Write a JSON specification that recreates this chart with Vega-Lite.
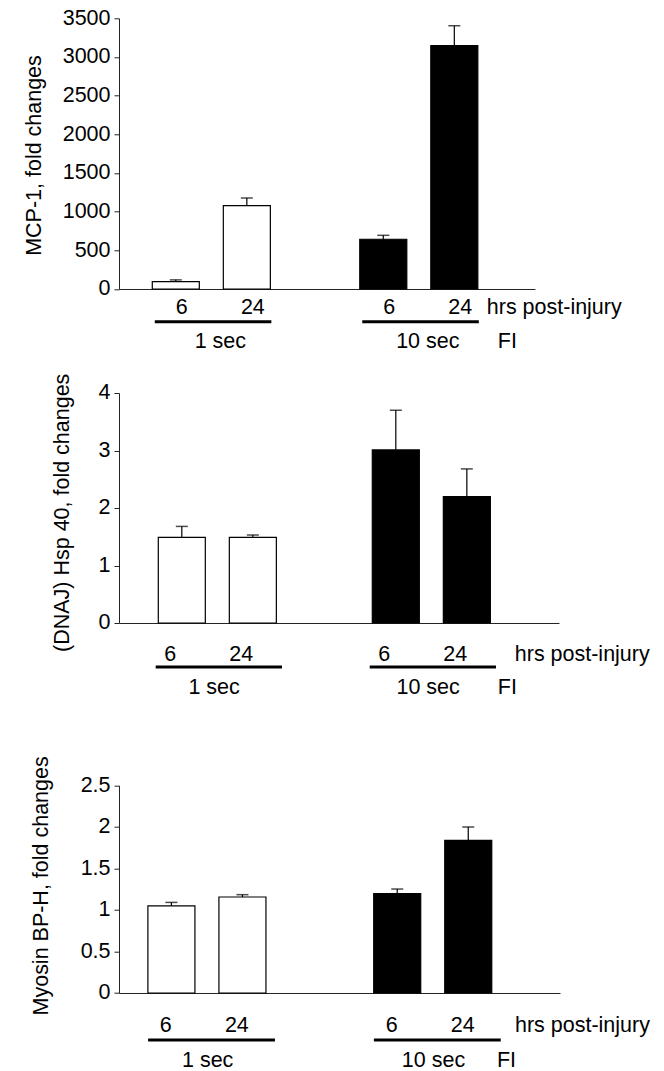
{
  "$schema": "https://vega.github.io/schema/vega-lite/v6.json",
  "autosize": "none",
  "padding": {"left": 119, "top": 18.3, "right": 545, "bottom": 1053},
  "config": {
    "view": {"stroke": null},
    "font": "Liberation Sans",
    "axis": {"grid": false, "tickSize": 5, "tickColor": "#222", "domainColor": "#222", "labelFontSize": 21.5, "labelColor": "black", "labelPadding": 4, "labelOverlap": false, "titleFontSize": 21.5, "titleFontWeight": "normal", "titleColor": "black", "titleBaseline": "middle"},
    "text": {"fontSize": 21.5, "color": "black", "baseline": "middle"}
  },
  "datasets": {
    "p1": [
      {"group": "1 sec", "hrs": "6", "mean": 95, "upper": 118},
      {"group": "1 sec", "hrs": "24", "mean": 1077, "upper": 1177},
      {"group": "10 sec", "hrs": "6", "mean": 643, "upper": 694},
      {"group": "10 sec", "hrs": "24", "mean": 3146, "upper": 3404}
    ],
    "p2": [
      {"group": "1 sec", "hrs": "6", "mean": 1.49, "upper": 1.68},
      {"group": "1 sec", "hrs": "24", "mean": 1.49, "upper": 1.53},
      {"group": "10 sec", "hrs": "6", "mean": 3.01, "upper": 3.70},
      {"group": "10 sec", "hrs": "24", "mean": 2.20, "upper": 2.68}
    ],
    "p3": [
      {"group": "1 sec", "hrs": "6", "mean": 1.048, "upper": 1.091},
      {"group": "1 sec", "hrs": "24", "mean": 1.156, "upper": 1.184},
      {"group": "10 sec", "hrs": "6", "mean": 1.196, "upper": 1.252},
      {"group": "10 sec", "hrs": "24", "mean": 1.838, "upper": 1.999}
    ],
    "groups": [{"group": "1 sec"}, {"group": "10 sec"}]
  },
  "vconcat": [
    {
      "width": 416,
      "height": 270.7,
      "data": {"name": "p1"},
      "encoding": {
        "x": {"field": "group", "type": "nominal", "title": null,
              "scale": {"domain": ["1 sec", "10 sec"], "paddingInner": 0.431, "paddingOuter": 0.218, "align": 0.368},
              "axis": {"labels": false, "ticks": false, "title": null}}
      },
      "layer": [
        {"mark": {"type": "bar", "stroke": "black", "strokeWidth": 1.2},
         "encoding": {
           "xOffset": {"field": "hrs", "type": "nominal", "scale": {"domain": ["6", "24"], "paddingInner": 0.338, "paddingOuter": 0}},
           "y": {"field": "mean", "type": "quantitative", "scale": {"domain": [0, 3500], "nice": false},
                 "axis": {"values": [0, 500, 1000, 1500, 2000, 2500, 3000, 3500], "format": "d", "title": "MCP-1, fold changes", "titleX": -85, "titleY": 136.7}},
           "color": {"field": "group", "type": "nominal", "scale": {"domain": ["1 sec", "10 sec"], "range": ["white", "black"]}, "legend": null}
         }},
        {"mark": {"type": "rule", "color": "black", "strokeWidth": 1.2},
         "encoding": {"xOffset": {"field": "hrs", "type": "nominal"},
           "y": {"field": "mean", "type": "quantitative", "axis": {"values": [0, 500, 1000, 1500, 2000, 2500, 3000, 3500], "format": "d", "title": "MCP-1, fold changes", "titleX": -85, "titleY": 136.7}},
           "y2": {"field": "upper"}}},
        {"mark": {"type": "tick", "color": "black", "size": 12, "thickness": 1.5},
         "encoding": {"xOffset": {"field": "hrs", "type": "nominal"},
           "y": {"field": "upper", "type": "quantitative", "axis": {"values": [0, 500, 1000, 1500, 2000, 2500, 3000, 3500], "format": "d", "title": "MCP-1, fold changes", "titleX": -85, "titleY": 136.7}}}},
        {"mark": {"type": "text", "dx": 6, "dy": 19.3},
         "encoding": {"xOffset": {"field": "hrs", "type": "nominal"},
           "y": {"datum": 0, "type": "quantitative", "axis": {"values": [0, 500, 1000, 1500, 2000, 2500, 3000, 3500], "format": "d", "title": "MCP-1, fold changes", "titleX": -85, "titleY": 136.7}},
           "text": {"field": "hrs"}}},
        {"data": {"name": "groups"},
         "mark": {"type": "rule", "color": "black", "strokeWidth": 3, "yOffset": 32.7, "xOffset": 2.5, "x2Offset": 1},
         "encoding": {"x": {"field": "group", "type": "nominal", "bandPosition": 0}, "x2": {"field": "group", "bandPosition": 1},
           "y": {"datum": 0, "type": "quantitative", "axis": {"values": [0, 500, 1000, 1500, 2000, 2500, 3000, 3500], "format": "d", "title": "MCP-1, fold changes", "titleX": -85, "titleY": 136.7}}}},
        {"data": {"name": "groups"},
         "mark": {"type": "text", "dx": 9, "dy": 53.5},
         "encoding": {"y": {"datum": 0, "type": "quantitative", "axis": {"values": [0, 500, 1000, 1500, 2000, 2500, 3000, 3500], "format": "d", "title": "MCP-1, fold changes", "titleX": -85, "titleY": 136.7}}, "text": {"field": "group"}}},
        {"data": {"values": [{"label": "hrs post-injury"}]},
         "mark": {"type": "text", "align": "left", "dx": 68, "dy": 19.3},
         "encoding": {"x": {"datum": "10 sec"}, "y": {"datum": 0, "type": "quantitative", "axis": {"values": [0, 500, 1000, 1500, 2000, 2500, 3000, 3500], "format": "d", "title": "MCP-1, fold changes", "titleX": -85, "titleY": 136.7}}, "text": {"field": "label"}}},
        {"data": {"values": [{"label": "FI"}]},
         "mark": {"type": "text", "align": "left", "dx": 79, "dy": 53.5},
         "encoding": {"x": {"datum": "10 sec"}, "y": {"datum": 0, "type": "quantitative", "axis": {"values": [0, 500, 1000, 1500, 2000, 2500, 3000, 3500], "format": "d", "title": "MCP-1, fold changes", "titleX": -85, "titleY": 136.7}}, "text": {"field": "label"}}}
      ]
    },
    {
      "width": 440,
      "height": 230,
      "data": {"name": "p2"},
      "encoding": {
        "x": {"field": "group", "type": "nominal", "title": null,
              "scale": {"domain": ["1 sec", "10 sec"], "paddingInner": 0.416, "paddingOuter": 0.236, "align": 0.389},
              "axis": {"labels": false, "ticks": false, "title": null}}
      },
      "layer": [
        {"mark": {"type": "bar", "stroke": "black", "strokeWidth": 1.2},
         "encoding": {
           "xOffset": {"field": "hrs", "type": "nominal", "scale": {"domain": ["6", "24"], "paddingInner": 0.29, "paddingOuter": 0}},
           "y": {"field": "mean", "type": "quantitative", "scale": {"domain": [0, 4], "nice": false},
                 "axis": {"values": [0, 1, 2, 3, 4], "format": "d", "title": "(DNAJ) Hsp 40, fold changes", "titleX": -57, "titleY": 119.3}},
           "color": {"field": "group", "type": "nominal", "scale": {"domain": ["1 sec", "10 sec"], "range": ["white", "black"]}, "legend": null}
         }},
        {"mark": {"type": "rule", "color": "black", "strokeWidth": 1.2},
         "encoding": {"xOffset": {"field": "hrs", "type": "nominal"}, "y": {"field": "mean", "type": "quantitative"}, "y2": {"field": "upper"}}},
        {"mark": {"type": "tick", "color": "black", "size": 12, "thickness": 1.5},
         "encoding": {"xOffset": {"field": "hrs", "type": "nominal"}, "y": {"field": "upper", "type": "quantitative"}}},
        {"mark": {"type": "text", "dx": -11.7, "dy": 31.6},
         "encoding": {"xOffset": {"field": "hrs", "type": "nominal"}, "y": {"datum": 0}, "text": {"field": "hrs"}}},
        {"data": {"name": "groups"},
         "mark": {"type": "rule", "color": "black", "strokeWidth": 3, "yOffset": 44, "xOffset": -2.6, "x2Offset": -1.3},
         "encoding": {"x": {"field": "group", "type": "nominal", "bandPosition": 0}, "x2": {"field": "group", "bandPosition": 1}, "y": {"datum": 0}}},
        {"data": {"name": "groups"},
         "mark": {"type": "text", "dx": -6.7, "dy": 65.3},
         "encoding": {"y": {"datum": 0}, "text": {"field": "group"}}},
        {"data": {"values": [{"label": "hrs post-injury"}]},
         "mark": {"type": "text", "align": "left", "dx": 80, "dy": 31.6},
         "encoding": {"x": {"datum": "10 sec"}, "y": {"datum": 0}, "text": {"field": "label"}}},
        {"data": {"values": [{"label": "FI"}]},
         "mark": {"type": "text", "align": "left", "dx": 63, "dy": 65.3},
         "encoding": {"x": {"datum": "10 sec"}, "y": {"datum": 0}, "text": {"field": "label"}}}
      ]
    },
    {
      "width": 441,
      "height": 266.3,
      "data": {"name": "p3"},
      "encoding": {
        "x": {"field": "group", "type": "nominal", "title": null,
              "scale": {"domain": ["1 sec", "10 sec"], "paddingInner": 0.475, "paddingOuter": 0.214, "align": 0.299},
              "axis": {"labels": false, "ticks": false, "title": null}}
      },
      "layer": [
        {"mark": {"type": "bar", "stroke": "black", "strokeWidth": 1.2},
         "encoding": {
           "xOffset": {"field": "hrs", "type": "nominal", "scale": {"domain": ["6", "24"], "paddingInner": 0.375, "paddingOuter": 0}},
           "y": {"field": "mean", "type": "quantitative", "scale": {"domain": [0, 2.5], "nice": false, "range": [266.3, 58.7]},
                 "axis": {"values": [0, 0.5, 1, 1.5, 2, 2.5], "format": "~g", "title": "Myosin BP-H, fold changes", "titleX": -78, "titleY": 158.7}},
           "color": {"field": "group", "type": "nominal", "scale": {"domain": ["1 sec", "10 sec"], "range": ["white", "black"]}, "legend": null}
         }},
        {"mark": {"type": "rule", "color": "black", "strokeWidth": 1.2},
         "encoding": {"xOffset": {"field": "hrs", "type": "nominal"}, "y": {"field": "mean", "type": "quantitative"}, "y2": {"field": "upper"}}},
        {"mark": {"type": "tick", "color": "black", "size": 12, "thickness": 1.5},
         "encoding": {"xOffset": {"field": "hrs", "type": "nominal"}, "y": {"field": "upper", "type": "quantitative"}}},
        {"mark": {"type": "text", "dx": -5.6, "dy": 33},
         "encoding": {"xOffset": {"field": "hrs", "type": "nominal"}, "y": {"datum": 0}, "text": {"field": "hrs"}}},
        {"data": {"name": "groups"},
         "mark": {"type": "rule", "color": "black", "strokeWidth": 3, "yOffset": 46.9, "xOffset": 0.2, "x2Offset": 8.5},
         "encoding": {"x": {"field": "group", "type": "nominal", "bandPosition": 0}, "x2": {"field": "group", "bandPosition": 1}, "y": {"datum": 0}}},
        {"data": {"name": "groups"},
         "mark": {"type": "text", "dx": 0.5, "dy": 68.4},
         "encoding": {"y": {"datum": 0}, "text": {"field": "group"}}},
        {"data": {"values": [{"label": "hrs post-injury"}]},
         "mark": {"type": "text", "align": "left", "dx": 82, "dy": 33},
         "encoding": {"x": {"datum": "10 sec"}, "y": {"datum": 0}, "text": {"field": "label"}}},
        {"data": {"values": [{"label": "FI"}]},
         "mark": {"type": "text", "align": "left", "dx": 64, "dy": 68.4},
         "encoding": {"x": {"datum": "10 sec"}, "y": {"datum": 0}, "text": {"field": "label"}}}
      ]
    }
  ],
  "spacing": 103.7,
  "bounds": "flush"
}
